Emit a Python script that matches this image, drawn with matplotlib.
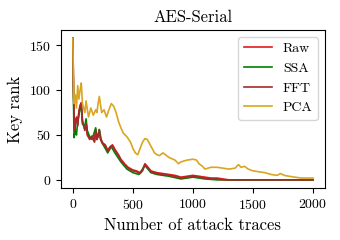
import matplotlib
matplotlib.use("Agg")
import matplotlib.pyplot as plt

plt.rcParams['font.family'] = 'serif'
plt.rcParams['font.serif'] = ['cmr10', 'DejaVu Serif']
plt.rcParams['mathtext.fontset'] = 'cm'
plt.rcParams['axes.formatter.use_mathtext'] = True

title = "AES-Serial"
xlabel = "Number of attack traces"
ylabel = "Key rank"
series_names = ["Raw", "SSA", "FFT", "PCA"]
series_colors = ["#e41a1c", "green", "#a52a2a", "goldenrod"]

raw_x = [0, 5, 10, 15, 20, 30, 40, 50, 60, 70, 80, 90, 100, 110, 120, 140, 160, 180, 190, 200, 210, 220, 230, 250, 270, 290, 310, 330, 350, 380, 400, 430, 460, 500, 530, 560, 580, 600, 620, 650, 700, 750, 800, 850, 900, 950, 1000, 1050, 1100, 1150, 1200, 1250, 1300, 2000]
raw_y = [158, 105, 72, 58, 66, 70, 62, 76, 83, 86, 66, 61, 56, 64, 51, 46, 49, 43, 56, 46, 49, 56, 46, 41, 39, 33, 37, 39, 34, 28, 23, 18, 14, 11, 10, 8, 11, 18, 15, 10, 8, 7, 6, 5, 3, 4, 5, 4, 3, 2, 2, 1, 0, 0]

ssa_x = [0, 5, 10, 20, 30, 40, 60, 70, 80, 100, 110, 120, 140, 160, 190, 200, 220, 240, 270, 290, 320, 350, 400, 450, 500, 550, 600, 650, 700, 800, 900, 1000, 1100, 1200, 2000]
ssa_y = [158, 90, 47, 55, 50, 65, 80, 80, 62, 60, 68, 55, 48, 45, 58, 45, 56, 42, 35, 30, 37, 30, 20, 12, 8, 6, 16, 8, 6, 4, 1, 3, 1, 0, 0]

fft_x = [0, 5, 10, 15, 20, 30, 40, 50, 60, 70, 80, 90, 100, 110, 120, 140, 160, 180, 190, 200, 210, 220, 230, 250, 270, 290, 310, 330, 350, 380, 400, 430, 460, 500, 530, 560, 580, 600, 620, 650, 700, 750, 800, 850, 900, 950, 1000, 1050, 1100, 1150, 1200, 1250, 2000]
fft_y = [158, 100, 70, 55, 65, 68, 60, 75, 82, 85, 65, 60, 55, 63, 50, 45, 48, 42, 55, 45, 48, 55, 45, 40, 38, 32, 36, 38, 33, 27, 22, 17, 13, 10, 9, 7, 10, 17, 14, 9, 7, 6, 5, 4, 2, 3, 4, 3, 2, 1, 1, 0, 0]

pca_x = [0, 5, 10, 20, 30, 40, 50, 60, 70, 80, 100, 110, 130, 150, 170, 190, 200, 210, 220, 240, 260, 280, 300, 320, 340, 360, 380, 400, 420, 450, 480, 500, 520, 540, 560, 580, 600, 620, 640, 660, 680, 700, 720, 750, 780, 800, 850, 880, 900, 950, 1000, 1030, 1050, 1080, 1100, 1150, 1200, 1250, 1300, 1350, 1380, 1400, 1430, 1460, 1500, 1550, 1600, 1650, 1700, 1730, 1760, 1800, 1850, 1900, 1950, 2000]
pca_y = [158, 110, 85, 95, 80, 105, 90, 100, 108, 85, 75, 88, 70, 80, 72, 78, 75, 85, 93, 75, 78, 70, 78, 85, 82, 75, 65, 58, 52, 48, 42, 35, 30, 28, 35, 42, 46, 45, 40, 35, 30, 28, 27, 30, 27, 25, 22, 18, 20, 22, 23, 22, 18, 15, 12, 14, 14, 13, 12, 13, 17, 14, 15, 12, 10, 9, 8, 6, 5, 7, 5, 4, 3, 2, 2, 2]

xticks = [0, 500, 1000, 1500, 2000]
yticks = [0, 50, 100, 150]

fig = plt.figure(figsize=(3.4, 2.4), dpi=100)
ax = fig.add_axes([0.179, 0.217, 0.777, 0.658])

data = [(raw_x, raw_y), (ssa_x, ssa_y), (fft_x, fft_y), (pca_x, pca_y)]
for (xs, ys), name, c in zip(data, series_names, series_colors):
    ax.plot(xs, ys, color=c, lw=1.2, label=name)

ax.set_xlim(-100, 2100)
ax.set_ylim(-9, 167)
ax.set_xticks(xticks)
ax.set_yticks(yticks)
ax.tick_params(labelsize=10)
ax.set_title(title, fontsize=12)
ax.set_xlabel(xlabel, fontsize=12)
ax.set_ylabel(ylabel, fontsize=12)
ax.legend(loc='upper right', fontsize=10)

fig.savefig("out.png", dpi=100)
